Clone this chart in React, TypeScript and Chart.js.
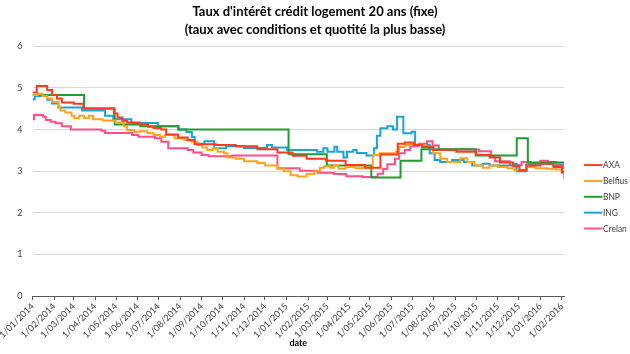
import { useEffect, useRef } from "react";
import { Chart, registerables } from "chart.js";

Chart.register(...registerables);

const titleLines = [
  "Taux d'intérêt crédit logement 20 ans (fixe)",
  "(taux avec conditions et quotité la plus basse)",
];
const xAxisTitle = "date";

const xTickLabels = [
  "1/01/2014", "1/02/2014", "1/03/2014", "1/04/2014", "1/05/2014", "1/06/2014",
  "1/07/2014", "1/08/2014", "1/09/2014", "1/10/2014", "1/11/2014", "1/12/2014",
  "1/01/2015", "1/02/2015", "1/03/2015", "1/04/2015", "1/05/2015", "1/06/2015",
  "1/07/2015", "1/08/2015", "1/09/2015", "1/10/2015", "1/11/2015", "1/12/2015",
  "1/01/2016", "1/02/2016",
];
const yTicks = [0, 1, 2, 3, 4, 5, 6];

const seriesNames = ["AXA", "Belfius", "BNP", "ING", "Crelan"];
const seriesColors = ["#FF3A1E", "#FFA31A", "#1E9E2E", "#1AA3D6", "#FF4F8A"];

const axa: [string, number][] = [
  ["2014-01-01", 4.89], ["2014-01-07", 5.05], ["2014-01-22", 4.95], ["2014-01-29", 4.83],
  ["2014-02-05", 4.75], ["2014-02-12", 4.65], ["2014-03-01", 4.62], ["2014-03-15", 4.51],
  ["2014-04-28", 4.39], ["2014-05-03", 4.29], ["2014-05-10", 4.21], ["2014-05-17", 4.17],
  ["2014-06-04", 4.12], ["2014-06-16", 4.07], ["2014-06-24", 4.04], ["2014-07-05", 4.0],
  ["2014-07-12", 3.88], ["2014-07-29", 3.81], ["2014-08-12", 3.75], ["2014-08-22", 3.65],
  ["2014-09-22", 3.63], ["2014-10-20", 3.6], ["2014-11-20", 3.53], ["2014-12-19", 3.45],
  ["2015-01-10", 3.37], ["2015-01-30", 3.3], ["2015-02-27", 3.25], ["2015-03-27", 3.15],
  ["2015-04-24", 3.08], ["2015-05-16", 3.4], ["2015-06-10", 3.66], ["2015-06-20", 3.69],
  ["2015-07-03", 3.63], ["2015-07-15", 3.58], ["2015-07-31", 3.51], ["2015-09-02", 3.47],
  ["2015-10-01", 3.39], ["2015-10-20", 3.33], ["2015-11-04", 3.21], ["2015-11-23", 3.12],
  ["2015-12-02", 3.02], ["2015-12-12", 3.14], ["2016-01-01", 3.18], ["2016-01-20", 3.1],
  ["2016-02-01", 2.98], ["2016-02-04", 2.95],
];

const belfius: [string, number][] = [
  ["2014-01-01", 4.83], ["2014-01-08", 4.86], ["2014-01-15", 4.81], ["2014-01-22", 4.75],
  ["2014-01-29", 4.67], ["2014-02-07", 4.55], ["2014-02-10", 4.46], ["2014-02-17", 4.41],
  ["2014-02-26", 4.33], ["2014-03-02", 4.27], ["2014-03-09", 4.33], ["2014-03-16", 4.28],
  ["2014-03-23", 4.33], ["2014-03-29", 4.25], ["2014-04-12", 4.22], ["2014-04-30", 4.17],
  ["2014-05-12", 4.08], ["2014-05-17", 3.99], ["2014-05-27", 3.95], ["2014-06-05", 3.96],
  ["2014-06-15", 3.92], ["2014-06-24", 3.87], ["2014-07-03", 3.83], ["2014-07-10", 3.87],
  ["2014-07-24", 3.79], ["2014-08-07", 3.75], ["2014-08-17", 3.71], ["2014-08-26", 3.63],
  ["2014-09-02", 3.57], ["2014-09-09", 3.51], ["2014-09-17", 3.55], ["2014-09-24", 3.47],
  ["2014-10-03", 3.43], ["2014-10-08", 3.33], ["2014-10-20", 3.3], ["2014-11-01", 3.24],
  ["2014-11-20", 3.2], ["2014-12-01", 3.14], ["2014-12-19", 3.06], ["2014-12-28", 3.0],
  ["2015-01-07", 2.9], ["2015-01-17", 2.87], ["2015-01-30", 2.93], ["2015-02-10", 3.0],
  ["2015-02-18", 3.08], ["2015-02-24", 3.12], ["2015-03-05", 3.08], ["2015-03-10", 3.15],
  ["2015-03-17", 3.06], ["2015-03-27", 3.1], ["2015-04-10", 3.07], ["2015-04-20", 3.09],
  ["2015-05-01", 3.07], ["2015-05-05", 3.39], ["2015-05-15", 3.43], ["2015-06-08", 3.48],
  ["2015-06-12", 3.58], ["2015-06-20", 3.63], ["2015-07-20", 3.59], ["2015-07-31", 3.43],
  ["2015-08-10", 3.3], ["2015-08-20", 3.22], ["2015-09-08", 3.31], ["2015-09-18", 3.22],
  ["2015-09-28", 3.14], ["2015-10-10", 3.08], ["2015-10-20", 3.14], ["2015-11-01", 3.1],
  ["2015-11-15", 3.07], ["2015-11-25", 3.03], ["2015-12-12", 3.1], ["2015-12-25", 3.07],
  ["2016-01-10", 3.06], ["2016-01-24", 3.04], ["2016-02-01", 2.95], ["2016-02-04", 2.8],
];

const bnp: [string, number][] = [
  ["2014-01-01", 4.83], ["2014-03-16", 4.51], ["2014-04-29", 4.12], ["2014-06-05", 4.08],
  ["2014-07-30", 4.0], ["2015-01-04", 3.41], ["2015-02-28", 3.14], ["2015-05-03", 2.85],
  ["2015-06-14", 3.25], ["2015-07-14", 3.53], ["2015-09-30", 3.38], ["2015-11-28", 3.79],
  ["2015-12-14", 3.21], ["2016-02-04", 3.21],
];

const ing: [string, number][] = [
  ["2014-01-01", 4.73], ["2014-01-04", 4.81], ["2014-01-22", 4.72], ["2014-01-29", 4.63],
  ["2014-02-07", 4.53], ["2014-03-13", 4.46], ["2014-04-15", 4.33], ["2014-04-27", 4.25],
  ["2014-05-23", 4.16], ["2014-06-30", 4.08], ["2014-07-29", 4.0], ["2014-08-10", 3.94],
  ["2014-08-18", 3.82], ["2014-08-22", 3.66], ["2014-09-05", 3.72], ["2014-09-19", 3.55],
  ["2014-10-06", 3.6], ["2014-11-01", 3.56], ["2014-12-04", 3.63], ["2014-12-11", 3.57],
  ["2015-01-02", 3.51], ["2015-02-14", 3.47], ["2015-02-23", 3.55], ["2015-03-01", 3.47],
  ["2015-03-11", 3.59], ["2015-03-15", 3.47], ["2015-03-24", 3.33], ["2015-03-29", 3.47],
  ["2015-04-07", 3.51], ["2015-04-12", 3.44], ["2015-04-26", 3.38], ["2015-05-07", 3.55],
  ["2015-05-11", 3.85], ["2015-05-16", 4.03], ["2015-05-26", 4.08], ["2015-06-03", 4.0],
  ["2015-06-09", 4.31], ["2015-06-18", 3.91], ["2015-06-30", 3.95], ["2015-07-05", 3.63],
  ["2015-07-26", 3.43], ["2015-08-02", 3.27], ["2015-08-10", 3.22], ["2015-08-27", 3.27],
  ["2015-09-13", 3.22], ["2015-09-25", 3.14], ["2015-10-10", 3.18], ["2015-10-20", 3.14],
  ["2015-11-23", 3.18], ["2015-11-28", 3.0], ["2015-12-12", 3.16], ["2015-12-25", 3.18],
  ["2016-01-19", 3.14], ["2016-02-01", 3.0], ["2016-02-04", 2.95],
];

const crelan: [string, number][] = [
  ["2014-01-01", 4.25], ["2014-01-03", 4.35], ["2014-01-16", 4.31], ["2014-01-20", 4.23],
  ["2014-01-27", 4.19], ["2014-02-03", 4.15], ["2014-02-12", 4.08], ["2014-02-25", 4.0],
  ["2014-04-10", 3.97], ["2014-04-15", 3.92], ["2014-05-24", 3.87], ["2014-06-02", 3.83],
  ["2014-06-26", 3.79], ["2014-07-05", 3.71], ["2014-07-15", 3.55], ["2014-08-12", 3.51],
  ["2014-08-20", 3.45], ["2014-09-01", 3.39], ["2014-09-11", 3.36], ["2014-10-15", 3.38],
  ["2014-12-19", 3.07], ["2015-01-20", 3.01], ["2015-02-15", 2.96], ["2015-03-10", 2.93],
  ["2015-03-28", 2.88], ["2015-04-20", 2.86], ["2015-05-12", 2.94], ["2015-05-20", 3.05],
  ["2015-05-26", 3.17], ["2015-06-06", 3.3], ["2015-06-12", 3.43], ["2015-06-20", 3.51],
  ["2015-06-28", 3.6], ["2015-07-10", 3.66], ["2015-07-22", 3.72], ["2015-07-30", 3.62],
  ["2015-08-08", 3.52], ["2015-10-05", 3.48], ["2015-10-22", 3.35], ["2015-10-28", 3.24],
  ["2015-11-18", 3.15], ["2015-12-05", 3.22], ["2015-12-18", 3.2], ["2016-01-01", 3.25],
  ["2016-01-12", 3.22], ["2016-01-24", 3.16], ["2016-02-04", 3.05],
];

const allSeries = [axa, belfius, bnp, ing, crelan];

const START = Date.UTC(2014, 0, 1);
const DAY = 86400000;
const dayOfIso = (iso: string) => {
  const [y, m, d] = iso.split("-").map(Number);
  return (Date.UTC(y, m - 1, d) - START) / DAY;
};
const dayOfLabel = (lbl: string) => {
  const [d, m, y] = lbl.split("/").map(Number);
  return (Date.UTC(y, m - 1, d) - START) / DAY;
};
const xTickValues = xTickLabels.map(dayOfLabel);
const xMax = Math.max(...allSeries.map((s) => dayOfIso(s[s.length - 1][0])));

const FONT = 'Lato, "Open Sans", "DejaVu Sans", sans-serif';

const sideLegend = {
  id: "sideLegend",
  afterDraw(chart: any) {
    const { ctx, chartArea } = chart;
    ctx.save();
    ctx.font = `10px ${FONT}`;
    ctx.textBaseline = "middle";
    ctx.textAlign = "left";
    const x0 = chartArea.right + 20;
    const y0 = chartArea.top + 118.7;
    chart.data.datasets.forEach((ds: any, i: number) => {
      const y = y0 + i * 15.85;
      ctx.strokeStyle = ds.borderColor;
      ctx.lineWidth = 2;
      ctx.beginPath();
      ctx.moveTo(x0, y);
      ctx.lineTo(x0 + 18.5, y);
      ctx.stroke();
      ctx.fillStyle = "#404040";
      const w = ctx.measureText(ds.label).width;
      ctx.fillText(ds.label, x0 + 19, y, Math.min(w, w * 0.84));
    });
    ctx.restore();
  },
};

export default function App() {
  const ref = useRef<HTMLCanvasElement | null>(null);
  useEffect(() => {
    if (!ref.current) return;
    const chart = new Chart(ref.current, {
      type: "line",
      data: {
        datasets: allSeries.map((s, i) => ({
          label: seriesNames[i],
          data: s.map(([d, v]) => ({ x: dayOfIso(d), y: v })),
          borderColor: seriesColors[i],
          backgroundColor: seriesColors[i],
          borderWidth: 2,
          pointRadius: 0,
          stepped: true,
          fill: false,
        })),
      },
      options: {
        responsive: false,
        animation: false,
        layout: { padding: { top: 0, right: 0, bottom: 0, left: 0 } },
        plugins: {
          legend: { display: false },
          tooltip: { enabled: false },
          title: {
            display: true,
            text: titleLines,
            color: "#000000",
            font: { family: FONT, size: 13, weight: "bold", lineHeight: 1.4 },
            padding: { top: 3, bottom: 7 },
          },
        },
        scales: {
          x: {
            type: "linear",
            min: 0,
            max: xMax,
            afterBuildTicks: (s: any) => {
              s.ticks = xTickValues.map((v) => ({ value: v }));
            },
            afterFit: (s: any) => {
              s.height = 58;
            },
            ticks: {
              autoSkip: false,
              minRotation: 45,
              maxRotation: 45,
              padding: 1,
              color: "#404040",
              font: { family: FONT, size: 9 },
              callback: (v: any) => {
                const i = xTickValues.indexOf(Number(v));
                return i >= 0 ? xTickLabels[i] : "";
              },
            },
            grid: { drawOnChartArea: false, drawTicks: true, tickLength: 4, color: "#595959" },
            border: { color: "#595959", width: 1 },
            title: {
              display: true,
              text: xAxisTitle,
              color: "#000000",
              font: { family: FONT, size: 9, weight: "bold" },
              padding: { top: 0, bottom: 6 },
            },
          },
          y: {
            min: 0,
            max: 6,
            afterFit: (s: any) => {
              s.width = 30;
            },
            afterBuildTicks: (s: any) => {
              s.ticks = yTicks.map((v) => ({ value: v }));
            },
            ticks: {
              color: "#404040",
              font: { family: FONT, size: 9 },
              padding: 10,
            },
            grid: { color: "#D9D9D9", drawTicks: false },
            border: { display: false },
          },
          legendSpace: {
            type: "linear",
            position: "right",
            display: true,
            min: 0,
            max: 6,
            afterFit: (s: any) => {
              s.width = 66;
            },
            ticks: { display: false },
            grid: { display: false, drawTicks: false },
            border: { display: false },
          },
        },
      },
      plugins: [sideLegend],
    });
    return () => chart.destroy();
  }, []);
  return (
    <div style={{ position: "absolute", left: 0, top: 0, width: 630, height: 354 }}>
      <canvas ref={ref} width={630} height={354} />
    </div>
  );
}
